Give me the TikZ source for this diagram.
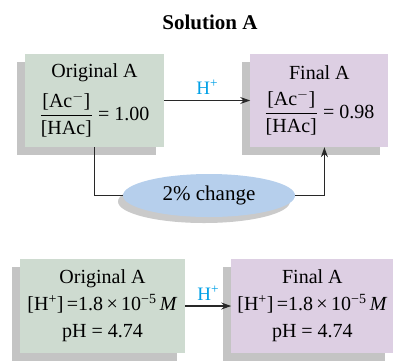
\RequirePackage{fix-cm}
\documentclass[tikz,border=0pt]{standalone}
\usepackage{amsmath}
\usepackage{fontspec}
\setmainfont{Liberation Serif}
\usepackage{tikz}
\usetikzlibrary{shapes.geometric, arrows.meta, positioning, shadows}
\definecolor{origgreen}{RGB}{206,219,208}
\definecolor{finpurple}{RGB}{221,207,227}
\definecolor{chgblue}{RGB}{182,207,236}
\definecolor{hpcyan}{RGB}{0,160,230}
\definecolor{linedark}{RGB}{40,40,40}
\tikzset{
  origbox/.style={rectangle, fill=origgreen, inner sep=0pt, align=center,
    font=\fontsize{20}{24}\selectfont,
    drop shadow={shadow xshift=-8pt, shadow yshift=-8pt, fill=black!55, opacity=.42}},
  finbox/.style={origbox, fill=finpurple},
  chgellipse/.style={ellipse, fill=chgblue, inner sep=0pt,
    minimum width=172pt, minimum height=43pt, font=\fontsize{21}{25}\selectfont,
    drop shadow={shadow xshift=-5pt, shadow yshift=-6pt, fill=black!55, opacity=.38}},
  hplabel/.style={text=hpcyan, font=\fontsize{19}{22}\selectfont},
  arrow/.style={-{Stealth[length=10pt, width=7pt]}, line width=1.1pt, color=linedark},
  line/.style={line width=1.1pt, color=linedark}
}

\begin{document}
\begin{tikzpicture}[x=1pt, y=-1pt]
  \useasboundingbox (0,0) rectangle (395,360);

  \node[font=\bfseries\fontsize{21}{25}\selectfont] (title) at (210,22) {Solution A};

  % --- top: ratio ---
  \node[origbox, minimum width=139pt, minimum height=93pt] (orig1) at (94.5,100.5)
    {Original A\\[9pt] $\dfrac{\text{[Ac$^-$]}}{\text{[HAc]}}$ = 1.00};
  \node[finbox, minimum width=138pt, minimum height=93pt, right=86pt of orig1] (fin1)
    {Final A\\[9pt] $\dfrac{\text{[Ac$^-$]}}{\text{[HAc]}}$ = 0.98};
  \draw[arrow] (orig1) -- node[hplabel, above=2pt] (hp1) {H\textsuperscript{+}} (fin1);

  \node[chgellipse] (chg) at (209,195.5) {2\% change};
  \draw[line] (orig1.south) |- (chg.west);
  \draw[arrow] (chg.east) -| ([xshift=5pt]fin1.south);

  % --- bottom: pH ---
  \node[origbox, minimum width=165pt, minimum height=94pt] (orig2) at (102.5,306)
    {Original A\\[3pt] [H\textsuperscript{+}]\,=1.8\,×\,10\textsuperscript{−5}\,\textit{M}\\[3pt] pH = 4.74};
  \node[finbox, minimum width=162pt, minimum height=94pt, right=46pt of orig2] (fin2)
    {Final A\\[3pt] [H\textsuperscript{+}]\,=1.8\,×\,10\textsuperscript{−5}\,\textit{M}\\[3pt] pH = 4.74};
  \draw[arrow] (orig2) -- node[hplabel, above=2pt] (hp2) {H\textsuperscript{+}} (fin2);
\end{tikzpicture}
\end{document}
